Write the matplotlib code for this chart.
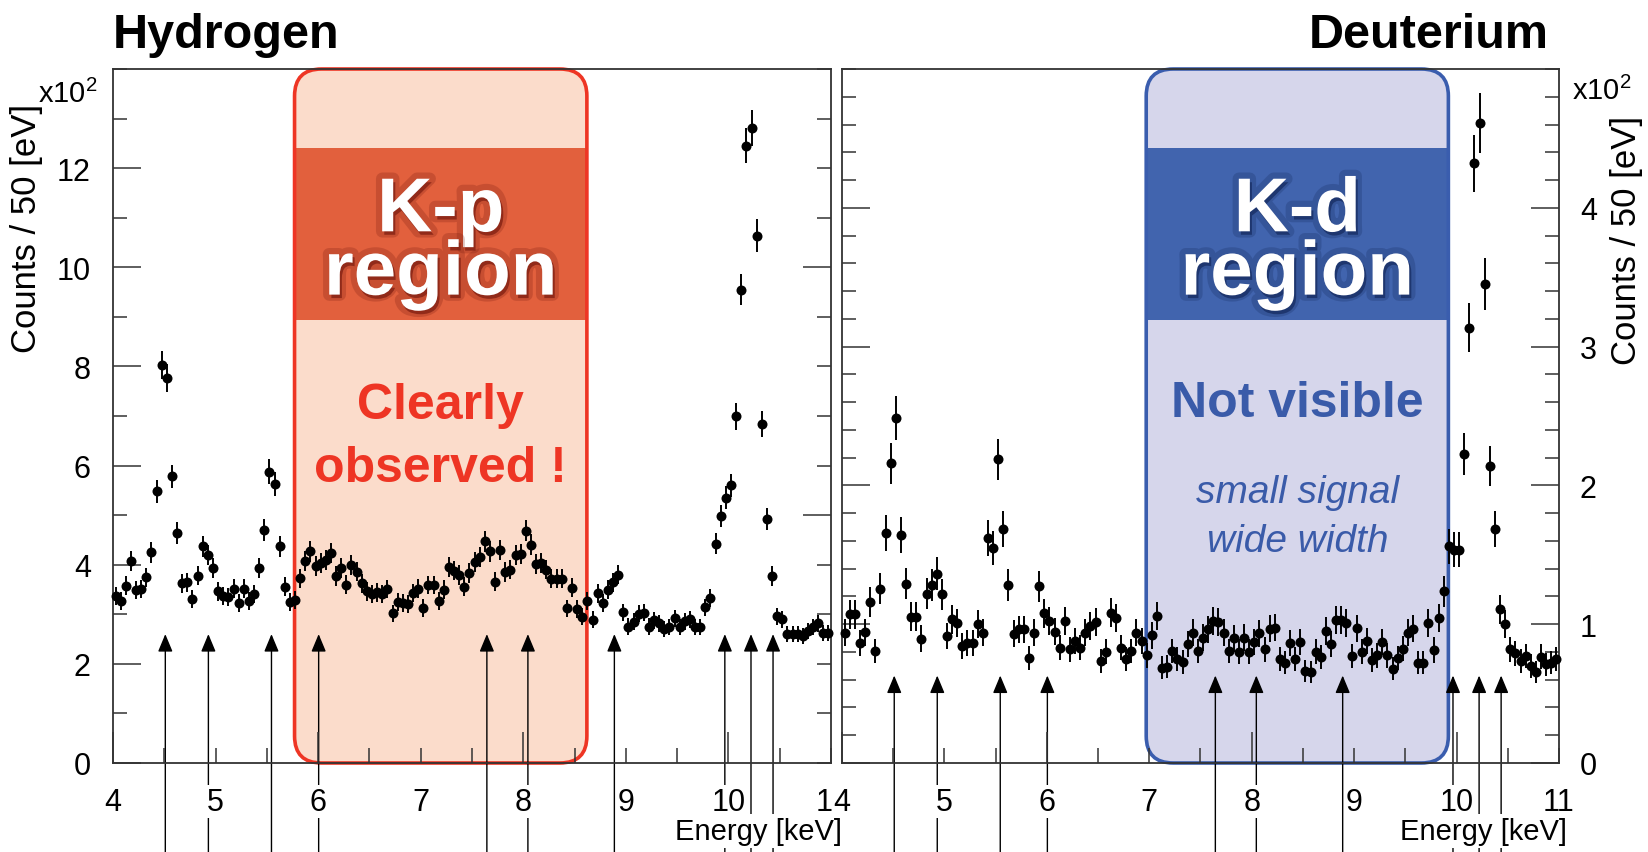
import matplotlib
matplotlib.use('Agg')
import matplotlib.pyplot as plt
import matplotlib.patheffects as pe
import numpy as np
from matplotlib.patches import FancyBboxPatch, Rectangle
from matplotlib.ticker import MultipleLocator, FixedLocator, FuncFormatter

plt.rcParams['font.family'] = ['Liberation Sans', 'DejaVu Sans']
plt.rcParams['mathtext.fontset'] = 'custom'
plt.rcParams['mathtext.rm'] = 'Liberation Sans'

# spectra, counts per 50 eV bin in units of 100, from 4.0 to 11.0 keV
E_MIN, E_MAX, BIN = 4.0, 11.0, 0.05

hydrogen_counts = [
    3.37, 3.27, 3.58, 4.07, 3.49, 3.51, 3.75, 4.25, 5.48, 8.03,
    7.77, 5.78, 4.64, 3.63, 3.65, 3.31, 3.78, 4.37, 4.20, 3.93,
    3.46, 3.37, 3.35, 3.52, 3.22, 3.52, 3.27, 3.41, 3.93, 4.70,
    5.88, 5.63, 4.37, 3.56, 3.24, 3.29, 3.73, 4.08, 4.27, 3.98,
    4.03, 4.10, 4.24, 3.77, 3.93, 3.60, 3.99, 3.86, 3.63, 3.46,
    3.41, 3.44, 3.41, 3.51, 3.02, 3.24, 3.22, 3.21, 3.43, 3.52,
    3.13, 3.59, 3.59, 3.27, 3.50, 3.96, 3.88, 3.79, 3.56, 3.83,
    4.05, 4.15, 4.47, 4.27, 3.66, 4.30, 3.85, 3.90, 4.20, 4.22,
    4.69, 4.40, 4.01, 4.03, 3.90, 3.72, 3.72, 3.72, 3.12, 3.54,
    3.11, 2.95, 3.27, 2.89, 3.42, 3.23, 3.50, 3.65, 3.80, 3.04,
    2.75, 2.85, 3.01, 3.03, 2.75, 2.88, 2.82, 2.70, 2.74, 2.92,
    2.74, 2.86, 2.90, 2.74, 2.74, 3.14, 3.33, 4.42, 4.99, 5.35,
    5.60, 6.99, 9.55, 12.45, 12.81, 10.64, 6.84, 4.92, 3.77, 2.96,
    2.90, 2.60, 2.60, 2.60, 2.57, 2.67, 2.74, 2.82, 2.63, 2.63,
]

deuterium_counts = [
    0.939, 1.070, 1.070, 0.867, 0.943, 1.159, 0.807, 1.257, 1.657, 2.160,
    2.488, 1.643, 1.293, 1.054, 1.054, 0.896, 1.221, 1.281, 1.365, 1.214,
    0.915, 1.034, 1.010, 0.843, 0.867, 0.867, 1.003, 0.939, 1.621, 1.549,
    2.189, 1.686, 1.281, 0.932, 0.963, 0.963, 0.754, 0.939, 1.274, 1.078,
    1.023, 0.946, 0.831, 1.026, 0.819, 0.879, 0.831, 0.939, 0.987, 1.015,
    0.735, 0.802, 1.082, 1.046, 0.831, 0.752, 0.807, 0.939, 0.879, 0.776,
    0.920, 1.058, 0.687, 0.695, 0.807, 0.747, 0.728, 0.855, 0.939, 0.807,
    0.903, 0.963, 1.023, 1.015, 0.939, 0.807, 0.898, 0.802, 0.903, 0.802,
    0.874, 0.934, 0.819, 0.967, 0.975, 0.747, 0.723, 0.867, 0.752, 0.874,
    0.663, 0.656, 0.802, 0.766, 0.951, 0.855, 1.030, 1.030, 1.006, 0.771,
    0.970, 0.802, 0.879, 0.742, 0.776, 0.872, 0.776, 0.680, 0.759, 0.824,
    0.939, 0.967, 0.723, 0.723, 1.006, 0.814, 1.046, 1.238, 1.561, 1.537,
    1.537, 2.227, 3.137, 4.320, 4.610, 3.450, 2.140, 1.686, 1.106, 0.999,
    0.819, 0.790, 0.735, 0.771, 0.699, 0.656, 0.767, 0.711, 0.723, 0.747,
]

# X-ray lines marked by arrows (keV) and the arrow tip heights
line_energies = [4.51, 4.93, 5.545, 6.005, 7.645, 8.045, 8.888, 9.965, 10.22, 10.435]
h_arrow_tip = 2.60
d_arrow_tip = 0.63

# highlighted regions (keV)
kp_region = (5.77, 8.62)
kd_region = (6.97, 9.92)

W, H = 1649, 853
fig = plt.figure(figsize=(W / 100, H / 100), dpi=100)

AX_TOP, AX_BOT = 70, 764


def px_rect(x0, x1):
    return [x0 / W, 1 - AX_BOT / H, (x1 - x0) / W, (AX_BOT - AX_TOP) / H]


def fy(ypx):
    return 1 - ypx / H


def fx(xpx):
    return xpx / W


def ay(ypx):
    # pixel row -> axes fraction
    return (AX_BOT - ypx) / (AX_BOT - AX_TOP)


ax_h = fig.add_axes(px_rect(113, 831))
ax_d = fig.add_axes(px_rect(842, 1559))


def int_label(v, pos):
    return '%d' % round(v) if abs(v - round(v)) < 1e-6 else ''


def draw_spectrum(ax, counts, ymax):
    counts = np.asarray(counts)
    energy = E_MIN + BIN * (np.arange(len(counts)) + 0.5)
    err = np.sqrt(counts * 100) / 100
    ax.errorbar(energy, counts, yerr=err, xerr=BIN / 2, fmt='o', color='black',
                ms=7.2, mew=0, elinewidth=1.4, capsize=0, zorder=3, clip_on=False)
    ax.set_xlim(E_MIN, E_MAX)
    ax.set_ylim(0, ymax)
    for s in ax.spines.values():
        s.set_color('#333333')
        s.set_linewidth(1.3)
    ax.xaxis.set_major_locator(MultipleLocator(2))
    ax.xaxis.set_minor_locator(MultipleLocator(0.5))
    ax.xaxis.set_major_formatter(FuncFormatter(int_label))
    ax.xaxis.set_minor_formatter(FuncFormatter(int_label))
    ax.tick_params(axis='x', which='both', direction='in', top=False,
                   labelsize=22, pad=17, width=1.1, color='#333333')
    ax.tick_params(axis='x', which='major', length=22)
    ax.tick_params(axis='x', which='minor', length=11)
    for t in ax.xaxis.get_major_ticks() + ax.xaxis.get_minor_ticks():
        t.label1.set_bbox(dict(fc='white', ec='none', pad=1))


def region_box(ax, x0, x1, fill, edge, band):
    ymax = ax.get_ylim()[1]
    pos = ax.get_position()
    w_px, h_px = pos.width * W, pos.height * H
    aspect = (ymax / h_px) / ((E_MAX - E_MIN) / w_px)
    r = 27 * (E_MAX - E_MIN) / w_px
    style = 'round,pad=0,rounding_size=%g' % r
    ax.add_patch(FancyBboxPatch((x0, 0), x1 - x0, ymax, boxstyle=style,
                                mutation_aspect=aspect, fc=fill, ec='none',
                                zorder=0.5, clip_on=False))
    b0 = ymax * ay(321)
    b1 = ymax * ay(149)
    ax.add_patch(Rectangle((x0, b0), x1 - x0, b1 - b0, fc=band, ec='none', zorder=0.6))
    ax.add_patch(FancyBboxPatch((x0, 0), x1 - x0, ymax, boxstyle=style,
                                mutation_aspect=aspect, fc='none', ec=edge, lw=2.6,
                                zorder=0.7, clip_on=False))
    return (x0 + x1) / 2


def arrows(ax, tip):
    for e in line_energies:
        ax.annotate('', xy=(e, tip), xycoords='data',
                    xytext=(e, 0), textcoords=('data', 'figure fraction'),
                    annotation_clip=False, zorder=1.5,
                    arrowprops=dict(arrowstyle='-|>,head_length=0.6,head_width=0.25',
                                    color='black', lw=1.0, shrinkA=0, shrinkB=0,
                                    mutation_scale=18, clip_on=False))


def region_text(ax, xc, title, title_dark, lines):
    tr = ax.get_xaxis_transform()
    glow = [pe.Stroke(linewidth=9, foreground=title_dark, alpha=0.25),
            pe.SimplePatchShadow(offset=(1.5, -2.5), shadow_rgbFace=title_dark, alpha=0.7),
            pe.Normal()]
    size = 55
    em = size * 100 / 72
    # two-line title, first baseline at row 232, second at row 295
    ax.text(xc, ay(232 - 0.716 * em), title, transform=tr, ha='center', va='top',
            fontsize=size, linespacing=0.86, fontweight='bold', color='white',
            path_effects=glow, zorder=5)
    for txt, y, size, style, weight, color in lines:
        ax.text(xc, ay(y), txt, transform=tr, ha='center', va='baseline', fontsize=size,
                fontstyle=style, fontweight=weight, color=color, zorder=5)


# ---- Hydrogen
draw_spectrum(ax_h, hydrogen_counts, 14)
ax_h.yaxis.set_major_locator(FixedLocator(np.arange(0, 13, 2)))
ax_h.yaxis.set_minor_locator(MultipleLocator(1))
ax_h.tick_params(axis='y', which='both', direction='in', right=False,
                 labelsize=22, pad=16, width=1.1, color='#333333')
ax_h.tick_params(axis='y', which='major', length=20)
ax_h.tick_params(axis='y', which='minor', length=10)
tw = ax_h.twinx()
tw.set_ylim(0, 14)
tw.yaxis.set_major_locator(FixedLocator([5, 10]))
tw.yaxis.set_minor_locator(MultipleLocator(1))
tw.tick_params(axis='y', which='both', direction='in', labelright=False, width=1.1, color='#333333')
tw.tick_params(axis='y', which='major', length=20)
tw.tick_params(axis='y', which='minor', length=10)
for s in tw.spines.values():
    s.set_visible(False)

red = '#EE3524'
xc = region_box(ax_h, *kp_region, fill='#FBDCCB', edge=red, band='#E2603D')
region_text(ax_h, xc, 'K-p\nregion', '#7A1C10',
            [('Clearly', 419, 36, 'normal', 'bold', red),
             ('observed !', 482, 36, 'normal', 'bold', red)])
arrows(ax_h, h_arrow_tip)

# ---- Deuterium
draw_spectrum(ax_d, deuterium_counts, 5)
ax_d.yaxis.set_major_locator(FixedLocator(np.arange(0, 5, 1)))
ax_d.yaxis.set_minor_locator(MultipleLocator(0.2))
ax_d.tick_params(axis='y', which='both', direction='in', left=True, right=True,
                 labelleft=False, labelright=True, labelsize=22, pad=15,
                 width=1.1, color='#333333')
ax_d.tick_params(axis='y', which='major', length=20)
ax_d.tick_params(axis='y', which='minor', length=10)

blue = '#3A5BA9'
xc = region_box(ax_d, *kd_region, fill='#D6D6EB', edge='#3A5DAE', band='#4164AE')
region_text(ax_d, xc, 'K-d\nregion', '#152A5E',
            [('Not visible', 417, 36, 'normal', 'bold', blue),
             ('small signal', 503, 28, 'italic', 'normal', blue),
             ('wide width', 552, 28, 'italic', 'normal', blue)])
arrows(ax_d, d_arrow_tip)

# ---- labels
energy_box = dict(fc='white', ec='none', pad=2)
fig.text(fx(842), fy(840), 'Energy [keV]', fontsize=21, ha='right', va='baseline', bbox=energy_box)
fig.text(fx(1567), fy(840), 'Energy [keV]', fontsize=21, ha='right', va='baseline', bbox=energy_box)
fig.text(fx(113), fy(48), 'Hydrogen', fontsize=35, fontweight='bold', ha='left', va='baseline')
fig.text(fx(1549), fy(48), 'Deuterium', fontsize=35, fontweight='bold', ha='right', va='baseline')
fig.text(fx(27), fy(228), 'Counts / 50 [eV]', fontsize=25, rotation=90, ha='center', va='center')
fig.text(fx(1627), fy(240), 'Counts / 50 [eV]', fontsize=25, rotation=90, ha='center', va='center')
fig.text(fx(97), fy(103), r'x10$^{2}$', fontsize=21, ha='right', va='baseline')
fig.text(fx(1572), fy(100), r'x10$^{2}$', fontsize=21, ha='left', va='baseline')

fig.savefig('out.png', dpi=100)
